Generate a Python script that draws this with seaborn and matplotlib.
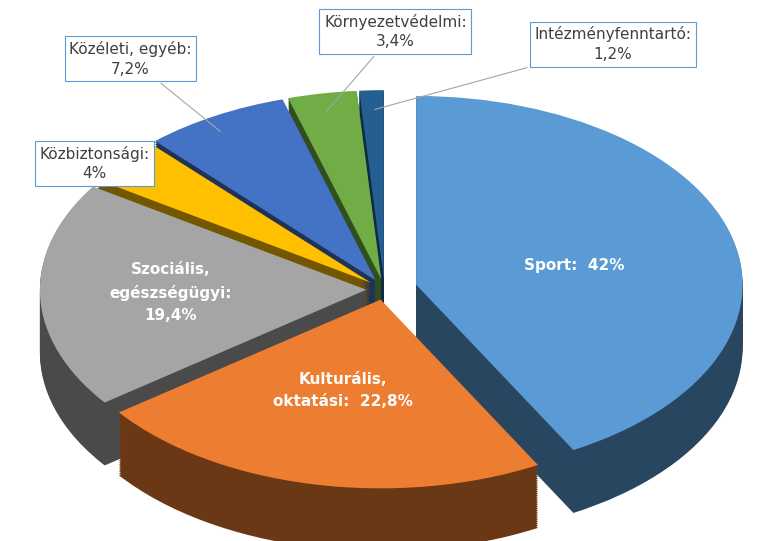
import numpy as np
import matplotlib.pyplot as plt
import matplotlib.colors as mcolors
import seaborn as sns

labels = ["Sport:  42%", "Kulturális,\noktatási:  22,8%", "Szociális,\negészségügyi:\n19,4%",
          "Közbiztonsági:\n4%", "Közéleti, egyéb:\n7,2%", "Környezetvédelmi:\n3,4%",
          "Intézményfenntartó:\n1,2%"]
values = [42, 22.8, 19.4, 4, 7.2, 3.4, 1.2]
colors = ["#5B9BD5", "#ED7D31", "#A5A5A5", "#FFC000", "#4472C4", "#70AD47", "#255E91"]
explode = [0.09, 0.05, 0.05, 0.05, 0.05, 0.05, 0.05]

sns.set_style("white")
fig = plt.figure(figsize=(7.69, 5.41), dpi=100)
ax = fig.add_axes([0, 0, 1, 1])

def dark(c, f):
    r, g, b = mcolors.to_rgb(c)
    return (r * f, g * f, b * f)

R = 0.9
depth = 0.3
for d in np.linspace(depth, 0.005, 30):
    ax.pie(values, colors=[dark(c, 0.45) for c in colors], explode=explode,
           startangle=90, counterclock=False, center=(0, -d), radius=R,
           wedgeprops=dict(linewidth=0))
ax.pie(values, colors=colors, explode=explode, startangle=90, counterclock=False,
       center=(0, 0), radius=R, wedgeprops=dict(linewidth=0))

ax.set_aspect("auto")
ax.set_xlim(-1.06, 1.06)
ax.set_ylim(-1.2, 1.38)
ax.axis("off")

angles = 90 - (np.cumsum(values) - np.array(values) / 2) / 100 * 360
inside = {0: 0.5, 1: 0.55, 2: 0.6}
boxes = {3: (-0.8, 0.6), 4: (-0.7, 1.1), 5: (0.03, 1.23), 6: (0.63, 1.17)}
for i, lab in enumerate(labels):
    a = np.deg2rad(angles[i])
    if i in inside:
        r = inside[i] * R
        x = (r + explode[i]) * np.cos(a)
        y = r * np.sin(a)
        ax.text(x, y, lab, ha="center", va="center", color="white",
                fontsize=11, fontweight="bold", linespacing=1.6)
    else:
        bx, by = boxes[i]
        tx, ty = (0.95 * R + 0.05) * np.cos(a), 0.95 * R * np.sin(a)
        ax.annotate(lab, xy=(tx, ty), xytext=(bx, by), ha="center", va="center",
                    fontsize=11, color="#404040", linespacing=1.4,
                    bbox=dict(boxstyle="square,pad=0.3", fc="white", ec="#5B9BD5", lw=0.8),
                    arrowprops=dict(arrowstyle="-", color="#A5A5A5", lw=0.8))

fig.savefig("out.png", dpi=100)
